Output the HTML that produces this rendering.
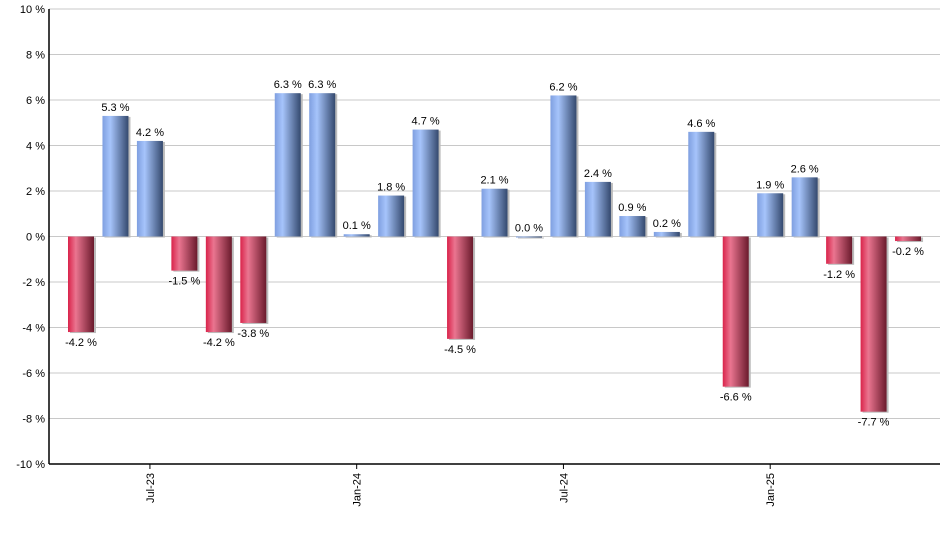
<!DOCTYPE html>
<html><head><meta charset="utf-8"><style>
body{margin:0;background:#fff;font-family:"Liberation Sans",Arial,sans-serif;}
svg text{font-family:"Liberation Sans",Arial,sans-serif;font-size:11px;fill:#000;}
</style></head><body>
<svg id="chart" width="940" height="550">
<defs>
<linearGradient id="gb" x1="0" x2="1"><stop offset="0" stop-color="#7f9fe0"/><stop offset="0.3" stop-color="#a6c4fb"/><stop offset="1" stop-color="#34496e"/></linearGradient>
<linearGradient id="gr" x1="0" x2="1"><stop offset="0" stop-color="#d9234a"/><stop offset="0.3" stop-color="#ea7590"/><stop offset="1" stop-color="#6a1a2c"/></linearGradient>
</defs>
<g id="grid"></g><g id="bars"></g><g id="axes"></g>
</svg>
<script>
const values=[-4.2,5.3,4.2,-1.5,-4.2,-3.8,6.3,6.3,0.1,1.8,4.7,-4.5,2.1,0.0,6.2,2.4,0.9,0.2,4.6,-6.6,1.9,2.6,-1.2,-7.7,-0.2];
const yTicks=[10,8,6,4,2,0,-2,-4,-6,-8,-10];
const xLabels=["Jul-23","Jan-24","Jul-24","Jan-25"];
const xLabelIdx=[2,8,14,20];
const NS="http://www.w3.org/2000/svg";
const svg=document.getElementById('chart');
const X0=49,X1=940,Ytop=9,Ybot=464;
const y=v=>Ytop+(10-v)/20*(Ybot-Ytop);
const step=34.46,first=81,bw=26;
const xc=i=>first+i*step;
function mk(t,a,p){const e=document.createElementNS(NS,t);for(const k in a)e.setAttribute(k,a[k]);p.appendChild(e);return e;}
const grid=document.getElementById('grid'),bars=document.getElementById('bars'),axes=document.getElementById('axes');
yTicks.forEach(t=>{
 const l=mk('line',{x1:X0,x2:X1,y1:y(t),y2:y(t),stroke:'#c8c8c8','stroke-width':1},grid);
 
 
 const tx=mk('text',{x:X0-4,y:y(t)+4,'text-anchor':'end'},axes);tx.textContent=t+' %';
 
 
});
values.forEach((v,i)=>{
 const top=Math.min(y(v),y(0)),h=Math.max(Math.abs(y(v)-y(0)),1);
 mk('rect',{x:xc(i)-bw/2+2,y:top+1,width:bw,height:h,fill:'#bbb'},bars);
 const r=mk('rect',{x:xc(i)-bw/2,y:top,width:bw,height:h,fill:v>=0?'url(#gb)':'url(#gr)'},bars);
 
 
 const ty=v>=0?y(v)-5:y(v)+14;
 const t=mk('text',{x:xc(i),y:ty,'text-anchor':'middle'},bars);t.textContent=v.toFixed(1)+' %';
 
 
});
const ya=mk('line',{x1:X0,x2:X0,y1:Ytop,y2:Ybot,stroke:'#000','stroke-width':1.5},axes);


const xa=mk('line',{x1:X0,x2:X1,y1:Ybot,y2:Ybot,stroke:'#000','stroke-width':1.5},axes);


xLabels.forEach((lab,k)=>{
 const x=xc(xLabelIdx[k]);
 mk('line',{x1:x,x2:x,y1:Ybot,y2:Ybot+5,stroke:'#000'},axes);
 const t=mk('text',{x:0,y:0,'text-anchor':'end',transform:`translate(${x+4},${Ybot+9}) rotate(-90)`},axes);
 t.textContent=lab;
 
 
});
</script>
</body></html>
